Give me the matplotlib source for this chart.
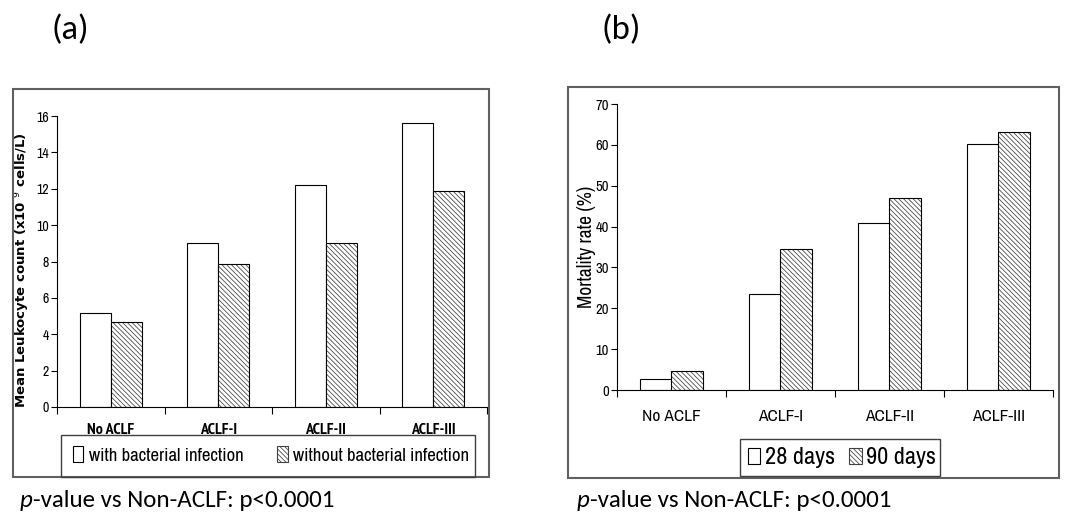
import numpy as np
import matplotlib
matplotlib.use("Agg")
import matplotlib.pyplot as plt
from matplotlib import font_manager
from matplotlib.patches import Rectangle, Patch

# -> data
categories = ["No ACLF", "ACLF-I", "ACLF-II", "ACLF-III"]
leuko_with_infection = [5.17, 9.0, 12.2, 15.6]
leuko_without_infection = [4.65, 7.85, 9.0, 11.85]
mortality_28d = [2.7, 23.5, 40.8, 60.2]
mortality_90d = [4.6, 34.5, 47.0, 63.1]
leuko_ticks = [0, 2, 4, 6, 8, 10, 12, 14, 16]
mortality_ticks = [0, 10, 20, 30, 40, 50, 60, 70]

fonts = font_manager.fontManager.ttflist
names = {f.name for f in fonts}
NARROW = "Archivo Narrow" if "Archivo Narrow" in names else "DejaVu Sans"
has_bold = any(f.name == NARROW and f.weight in (700, "bold") for f in fonts)
NARROW_BOLD = NARROW if has_bold else "PT Sans Narrow"
BODY = "Carlito" if "Carlito" in names else "Lato"

HATCH = "\\\\\\\\\\\\\\"
plt.rcParams["hatch.linewidth"] = 0.55

W, H = 1072, 515
fig = plt.figure(figsize=(W / 100, H / 100), dpi=100)


def fx(px):
    return px / W


def fy(px):
    return 1 - px / H


def draw_bars(ax, a, b, width, offset):
    x = np.arange(len(categories))
    ax.bar(x - offset, a, width, color="white", edgecolor="black", linewidth=0.8)
    # hatched bar: grey hatch first, black outline on top
    ax.bar(x + offset, b, width, color="white", edgecolor="#404040",
           hatch=HATCH, linewidth=0)
    ax.bar(x + offset, b, width, fill=False, edgecolor="black", linewidth=0.8)
    ax.set_xlim(-0.5, len(categories) - 0.5)
    for s in ["top", "right"]:
        ax.spines[s].set_visible(False)
    for s in ["left", "bottom"]:
        ax.spines[s].set_linewidth(0.8)
    # ticks sit between the categories
    ax.set_xticks(np.arange(-0.5, len(categories)))
    ax.set_xticklabels([])
    ax.tick_params(axis="x", length=5, width=0.8, direction="out")
    ax.tick_params(axis="y", length=4, width=0.8, direction="out", pad=2)


def box(x0, y0, x1, y1, color, lw):
    fig.add_artist(Rectangle((fx(x0), fy(y1)), fx(x1) - fx(x0), fy(y0) - fy(y1),
                             transform=fig.transFigure, fill=False,
                             edgecolor=color, linewidth=lw))


# -> panel (a)
ax1 = fig.add_axes([fx(57), fy(407), fx(487) - fx(57), fy(116) - fy(407)])
draw_bars(ax1, leuko_with_infection, leuko_without_infection, 0.29, 0.145)
ax1.set_ylim(0, 16)
ax1.set_yticks(leuko_ticks)
ax1.set_yticklabels([str(t) for t in leuko_ticks], family=NARROW, fontsize=10)
for i, c in enumerate(categories):
    ax1.text(i, -0.079, c, transform=ax1.get_xaxis_transform(), ha="center",
             va="center", family=NARROW_BOLD, fontweight="bold", fontsize=11.5)
ax1.set_ylabel("Mean Leukocyte count (x10 $^{9}$ cells/L)", family="DejaVu Sans",
               fontweight="bold", fontsize=9.5)
ax1.yaxis.set_label_coords(-0.058, 0.47)

# -> panel (b)
ax2 = fig.add_axes([fx(617), fy(390), fx(1053) - fx(617), fy(104) - fy(390)])
draw_bars(ax2, mortality_28d, mortality_90d, 0.285, 0.142)
ax2.set_ylim(0, 70)
ax2.set_yticks(mortality_ticks)
ax2.set_yticklabels([str(t) for t in mortality_ticks], family=NARROW, fontsize=10.5)
for i, c in enumerate(categories):
    ax2.text(i, -0.094, c, transform=ax2.get_xaxis_transform(), ha="center",
             va="center", family=NARROW, fontsize=12.5)
ax2.set_ylabel("Mortality rate (%)", family=NARROW, fontsize=14)
ax2.yaxis.set_label_coords(-0.048, 0.5)

# -> outer frames
box(13, 89, 489, 477, "#606060", 1.5)
box(568, 87, 1059, 478, "#606060", 1.5)

# -> legends (frame drawn separately to match the padding)
h_white = Patch(facecolor="white", edgecolor="black", linewidth=0.8)
h_hatch = Patch(facecolor="white", edgecolor="#404040", hatch=HATCH, linewidth=0.8)

fig.legend([h_white, h_hatch], ["with bacterial infection", "without bacterial infection"],
           loc="center", bbox_to_anchor=(fx(271), fy(455)), ncol=2,
           prop={"family": NARROW, "size": 13.5}, frameon=False,
           handlelength=0.55, handleheight=0.9, handletextpad=0.3,
           columnspacing=1.8, borderpad=0, borderaxespad=0)
box(61, 435, 475, 477, "#404040", 1.0)

fig.legend([h_white, h_hatch], ["28 days", "90 days"],
           loc="center", bbox_to_anchor=(fx(842), fy(458)), ncol=2,
           prop={"family": NARROW, "size": 17.5}, frameon=False,
           handlelength=0.5, handleheight=0.65, handletextpad=0.2,
           columnspacing=0.6, borderpad=0, borderaxespad=0)
box(740, 439, 940, 476, "#404040", 1.0)

# -> panel letters
fig.text(fx(70), fy(30), "(a)", family=BODY, fontsize=25, ha="center", va="center")
fig.text(fx(621), fy(30), "(b)", family=BODY, fontsize=25, ha="center", va="center")

# -> p-value notes
for x0 in [20, 577]:
    t = fig.text(fx(x0), fy(511), "p", family=BODY, style="italic", fontsize=18,
                 ha="left", va="bottom")
    ax1.annotate("-value vs Non-ACLF: p<0.0001", xy=(1, 0), xycoords=t,
                 ha="left", va="bottom", family=BODY, fontsize=18,
                 annotation_clip=False)

fig.savefig("out.png", dpi=100)
